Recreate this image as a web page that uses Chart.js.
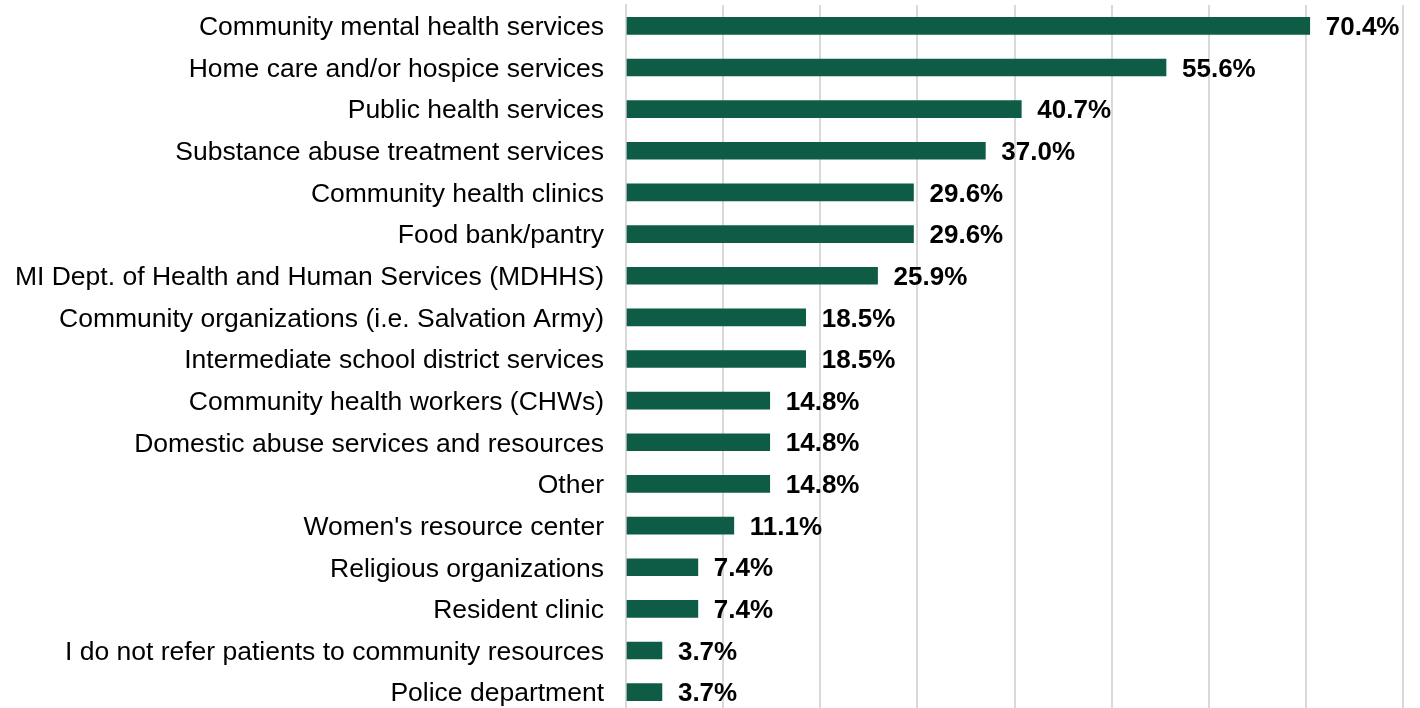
<!DOCTYPE html>
<html>
<head>
<meta charset="utf-8">
<script src="https://cdn.jsdelivr.net/npm/chart.js@4/dist/chart.umd.min.js"></script>
<style>
  html, body { margin: 0; padding: 0; background: #fff; overflow: hidden; }
  #wrap { width: 1420px; height: 713px; position: relative; }
</style>
</head>
<body>
<div id="wrap"><canvas id="chartRecursos"></canvas></div>
<script>
// Categorias y valores (%)
const categorias = [
  'Community mental health services',
  'Home care and/or hospice services',
  'Public health services',
  'Substance abuse treatment services',
  'Community health clinics',
  'Food bank/pantry',
  'MI Dept. of Health and Human Services (MDHHS)',
  'Community organizations (i.e. Salvation Army)',
  'Intermediate school district services',
  'Community health workers (CHWs)',
  'Domestic abuse services and resources',
  'Other',
  "Women's resource center",
  'Religious organizations',
  'Resident clinic',
  'I do not refer patients to community resources',
  'Police department'
];
const valores = [70.4, 55.6, 40.7, 37.0, 29.6, 29.6, 25.9, 18.5, 18.5, 14.8, 14.8, 14.8, 11.1, 7.4, 7.4, 3.7, 3.7];
const ejeMin = 0;
const ejeMax = 80;
const ejePaso = 10;

const fuente = "'Liberation Sans', Arial, sans-serif";

// Etiquetas de valor al final de cada barra
const etiquetasPlugin = {
  id: 'etiquetas',
  afterDatasetsDraw(chart) {
    const ctx = chart.ctx;
    const meta = chart.getDatasetMeta(0);
    ctx.save();
    ctx.font = 'bold 26px ' + fuente;
    ctx.fillStyle = '#000';
    ctx.textAlign = 'left';
    ctx.textBaseline = 'middle';
    meta.data.forEach((bar, i) => {
      ctx.fillText(valores[i].toFixed(1) + '%', bar.x + 16, bar.y + 2);
    });
    ctx.restore();
  }
};

new Chart(document.getElementById('chartRecursos'), {
  type: 'bar',
  data: {
    labels: categorias,
    datasets: [{
      data: valores,
      backgroundColor: '#0e5c45',
      barThickness: 17
    }]
  },
  options: {
    indexAxis: 'y',
    responsive: true,
    maintainAspectRatio: false,
    animation: false,
    layout: { padding: { top: 5, right: 17, bottom: 0, left: 0 } },
    plugins: {
      legend: { display: false },
      tooltip: { enabled: false }
    },
    scales: {
      x: {
        min: ejeMin,
        max: ejeMax,
        ticks: { display: false, stepSize: ejePaso },
        grid: { color: '#d9d9d9', lineWidth: 2, drawTicks: false },
        border: { display: false },
        afterFit(scale) { scale.height = 0; scale.paddingLeft = 0; scale.paddingRight = 0; }
      },
      y: {
        ticks: {
          color: '#000',
          font: { family: fuente, size: 26.5 },
          padding: 22,
          labelOffset: 2
        },
        grid: { display: false, drawTicks: false },
        border: { display: true, color: '#d9d9d9', width: 2 },
        afterFit(scale) {
          scale.width = 626;
          scale.paddingTop = 0;
          scale.paddingBottom = 0;
        }
      }
    }
  },
  plugins: [etiquetasPlugin]
});
</script>
</body>
</html>
